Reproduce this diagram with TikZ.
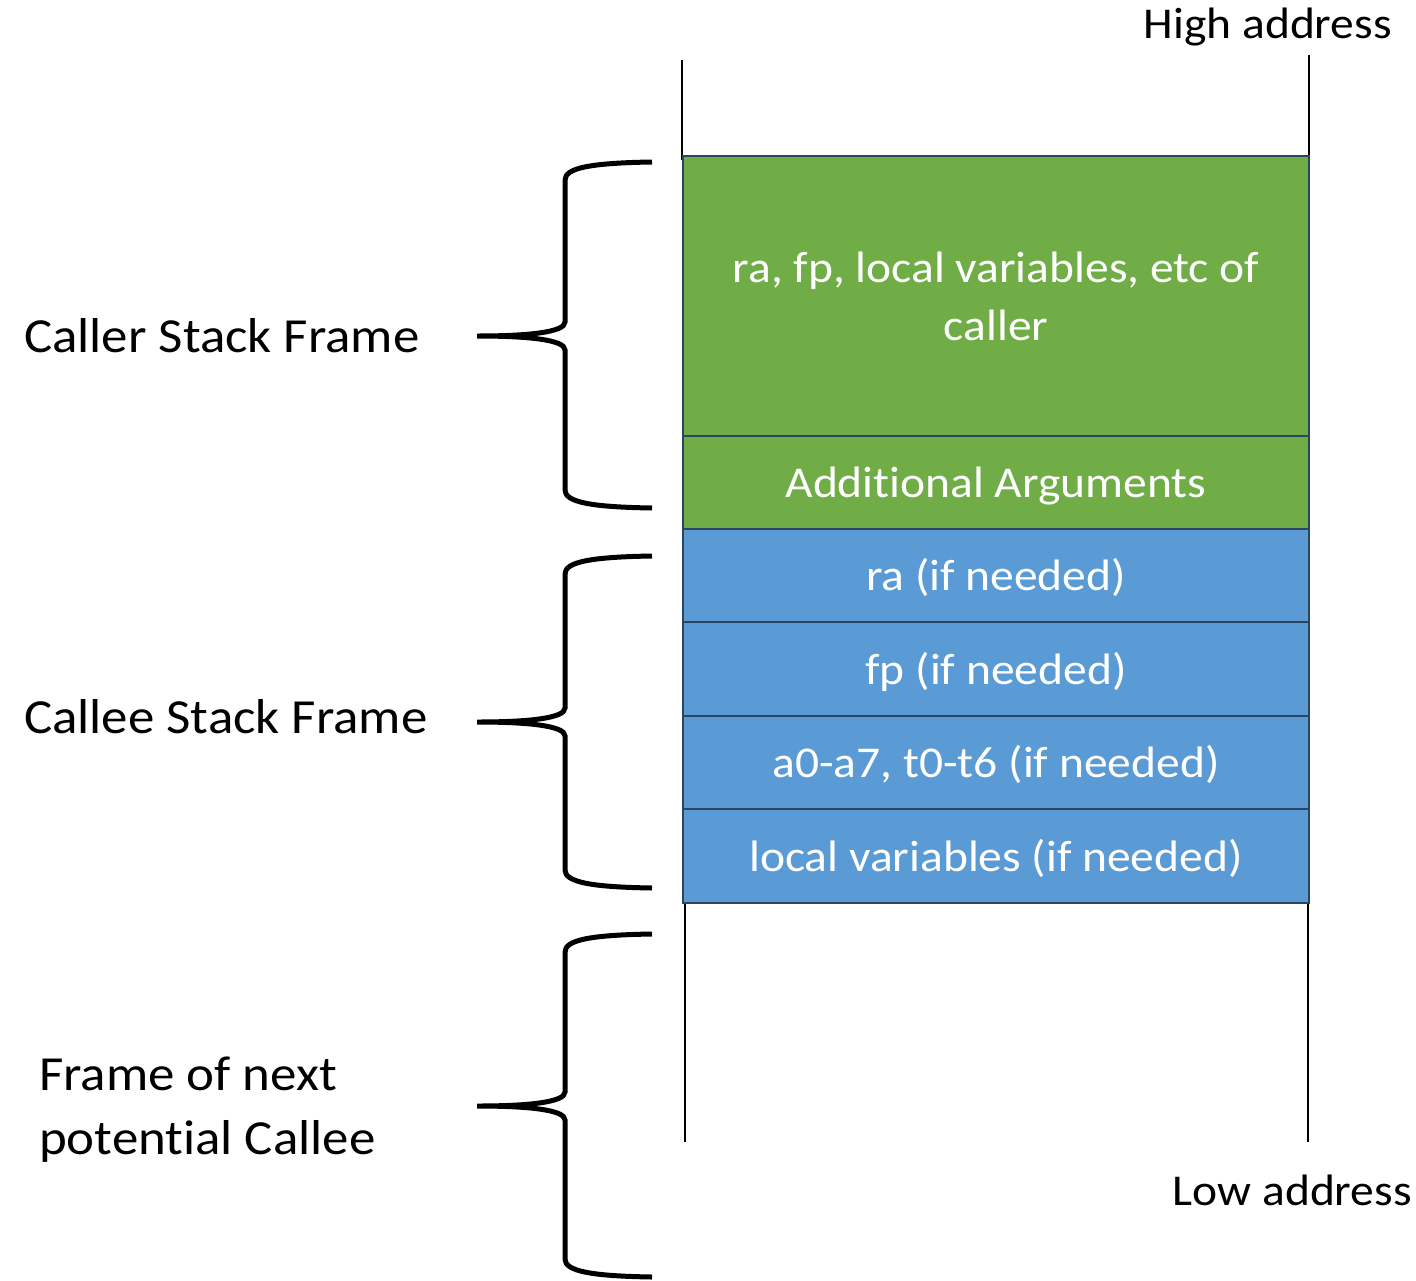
\documentclass[tikz,border=0pt]{standalone}
\usepackage{fontspec}
\setmainfont[FakeStretch=1.08,Ligatures=NoCommon]{Carlito}
\definecolor{boxgreen}{HTML}{70AD47}
\definecolor{boxblue}{HTML}{5B9BD5}
\definecolor{boxedge}{HTML}{2B4560}
\begin{document}
\begin{tikzpicture}[x=1pt,y=-1pt,
  slot/.style={draw=boxedge,line width=2pt,minimum width=626pt,anchor=north west,inner sep=0pt,
    text=white,font=\fontsize{44}{58}\selectfont,align=center},
  greenslot/.style={slot,fill=boxgreen},
  blueslot/.style={slot,fill=boxblue},
  rail/.style={line width=1.2pt,black},
  bracepath/.style={line width=5pt,black},
  lbl/.style={font=\fontsize{49}{64}\selectfont,align=left,anchor=west,inner sep=0pt},
  addr/.style={font=\fontsize{44}{48}\selectfont,inner sep=0pt}]
\useasboundingbox (0,0) rectangle (1416,1280);
% rails
\coordinate (lt) at (682,60);
\coordinate (rt) at (1309,55);
\coordinate (lb) at (685,1142);
\coordinate (rb) at (1308,1142);
\draw[rail] (lt) -- (682,160);
\draw[rail] (rt) -- (1309,160);
\draw[rail] (685,900) -- (lb);
\draw[rail] (1308,900) -- (rb);
% boxes
\node[greenslot,minimum height=280pt] (caller) at (682,155) {ra, fp, local variables, etc of\\caller};
\node[greenslot,minimum height=93pt,text height=35pt,text depth=5pt] (args) at (682,435) {Additional Arguments};
\node[blueslot,minimum height=93pt,text height=35pt,text depth=5pt] (ra) at (682,528) {ra (if needed)};
\node[blueslot,minimum height=94pt,text height=35pt,text depth=5pt] (fp) at (682,621) {fp (if needed)};
\node[blueslot,minimum height=93pt,text height=35pt,text depth=5pt] (regs) at (682,715) {a0-a7, t0-t6 (if needed)};
\node[blueslot,minimum height=94pt,text height=35pt,text depth=5pt] (locals) at (682,808) {local variables (if needed)};
% braces
\newcommand\stackbrace[3]{%
  \draw[bracepath,line cap=butt] (652,#1) .. controls (590,#1+1) and (565,#1+6) .. (565,#1+18)
    -- (565,#3-14) .. controls (565,#3-4) and (530,#3) .. (477,#3)
    .. controls (530,#3) and (565,#3+4) .. (565,#3+14)
    -- (565,#2-18) .. controls (565,#2-6) and (590,#2-1) .. (652,#2);}
\stackbrace{162}{508}{336}
\stackbrace{556}{888}{722}
\stackbrace{934}{1277}{1106}
% labels
\node[lbl] (callerlbl) at (24,336) {Caller Stack Frame};
\node[lbl] (calleelbl) at (24,717) {Callee Stack Frame};
\node[lbl] (nextlbl) at (39,1110) {Frame of next\\potential Callee};
\node[addr,anchor=east] (high) at (1392,27) {High address};
\node[addr,anchor=east] (low) at (1412,1190) {Low address};
\end{tikzpicture}
\end{document}
